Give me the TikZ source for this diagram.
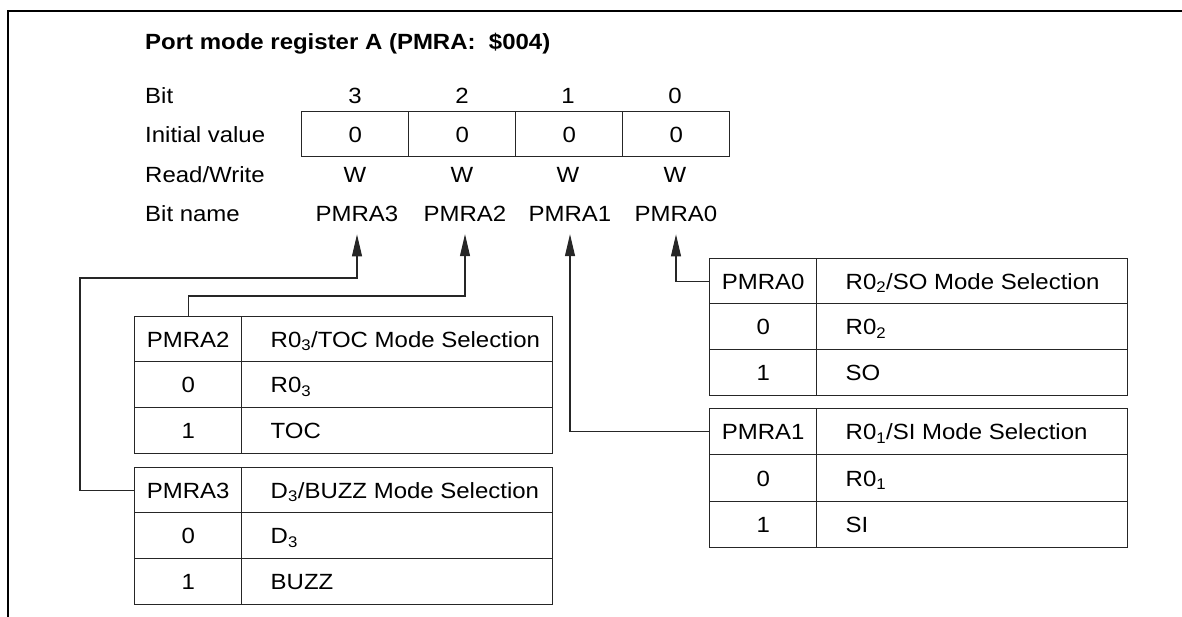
\documentclass[tikz,border=0pt]{standalone}
\usepackage{fontspec}
\setmainfont{Liberation Sans}[FakeStretch=1.09]
\usetikzlibrary{arrows.meta}
\newcommand\lowsub[1]{\textsubscript{#1}}
\newcommand\cellL[2]{\makebox[#1][l]{#2}}
\begin{document}
\begin{tikzpicture}[x=1pt,y=-1pt,
  every node/.style={font=\fontsize{22}{26}\selectfont, inner sep=0pt},
  lbl/.style={anchor=base west},
  ctr/.style={anchor=base},
  frameline/.style={line width=1.3pt},
  box/.style={draw=black!85, line width=1.4pt, anchor=north west, text height=16pt, text depth=0pt},
  regcell/.style={box, minimum width=107pt, minimum height=45pt},
  c1/.style={box, minimum width=107pt, minimum height=#1},
  c2/.style={box, minimum width=311pt, inner xsep=29pt, minimum height=#1},
  conn/.style={line width=1.1pt, draw=black!85},
  arr/.style={conn, -{Triangle[length=22pt,width=10pt]}, shorten >=12pt}]
\useasboundingbox (0,0) rectangle (1182,617);
\draw[frameline] (8,617) -- (8,11) -- (1182,11);

\node[lbl, font=\fontsize{22}{26}\selectfont\bfseries] (title) at (145,50) {Port mode register A (PMRA:\ \ \$004)};

\node[lbl] (lbit) at (145,104) {Bit};
\node[lbl] (linit) at (145,143) {Initial value};
\node[lbl] (lrw) at (145,183) {Read/Write};
\node[lbl] (lname) at (145,222) {Bit name};

\node[ctr] (b3) at (355,104) {3};
\node[ctr] (b2) at (462,104) {2};
\node[ctr] (b1) at (568,104) {1};
\node[ctr] (b0) at (675,104) {0};

\node[regcell] (r3) at (301,111) {0};
\node[regcell] (r2) at (408,111) {0};
\node[regcell] (r1) at (515,111) {0};
\node[regcell] (r0) at (622,111) {0};

\node[ctr] (w3) at (355,183) {W};
\node[ctr] (w2) at (462,183) {W};
\node[ctr] (w1) at (568,183) {W};
\node[ctr] (w0) at (675,183) {W};

\node[ctr] (n3) at (357,222) {PMRA3};
\node[ctr] (n2) at (465,222) {PMRA2};
\node[ctr] (n1) at (570,222) {PMRA1};
\node[ctr] (n0) at (676,222) {PMRA0};

% PMRA2 table
\node[c1=45pt] (p2h) at (134,316) {PMRA2};
\node[c2=45pt] (p2d) at (241,316) {\cellL{253pt}{R0\lowsub{3}/TOC Mode Selection}};
\node[c1=46pt] (p2a) at (134,361) {0};
\node[c2=46pt] (p2b) at (241,361) {\cellL{253pt}{R0\lowsub{3}}};
\node[c1=46pt] (p2c) at (134,407) {1};
\node[c2=46pt] (p2e) at (241,407) {\cellL{253pt}{TOC}};

% PMRA3 table
\node[c1=45pt] (p3h) at (134,467) {PMRA3};
\node[c2=45pt] (p3d) at (241,467) {\cellL{253pt}{D\lowsub{3}/BUZZ Mode Selection}};
\node[c1=46pt] (p3a) at (134,512) {0};
\node[c2=46pt] (p3b) at (241,512) {\cellL{253pt}{D\lowsub{3}}};
\node[c1=46pt] (p3c) at (134,558) {1};
\node[c2=46pt] (p3e) at (241,558) {\cellL{253pt}{BUZZ}};

% PMRA0 table
\node[c1=45pt] (q0h) at (709,258) {PMRA0};
\node[c2=45pt] (q0d) at (816,258) {\cellL{253pt}{R0\lowsub{2}/SO Mode Selection}};
\node[c1=46pt] (q0a) at (709,303) {0};
\node[c2=46pt] (q0b) at (816,303) {\cellL{253pt}{R0\lowsub{2}}};
\node[c1=46pt] (q0c) at (709,349) {1};
\node[c2=46pt] (q0e) at (816,349) {\cellL{253pt}{SO}};

% PMRA1 table
\node[c1=46pt] (q1h) at (709,408) {PMRA1};
\node[c2=46pt] (q1d) at (816,408) {\cellL{253pt}{R0\lowsub{1}/SI Mode Selection}};
\node[c1=47pt] (q1a) at (709,454) {0};
\node[c2=47pt] (q1b) at (816,454) {\cellL{253pt}{R0\lowsub{1}}};
\node[c1=46pt] (q1c) at (709,501) {1};
\node[c2=46pt] (q1e) at (816,501) {\cellL{253pt}{SI}};

% connectors
\coordinate (k3) at (80,278);
\coordinate (k2) at (465,296);
\draw[arr] (p3h.west) -| (k3) -| (n3.south);
\draw[arr] (p2h.north) |- (k2) -- (n2.south);
\draw[arr] (q1h.west) -| (n1.south);
\draw[arr] (q0h.west) -| (n0.south);
\end{tikzpicture}
\end{document}
